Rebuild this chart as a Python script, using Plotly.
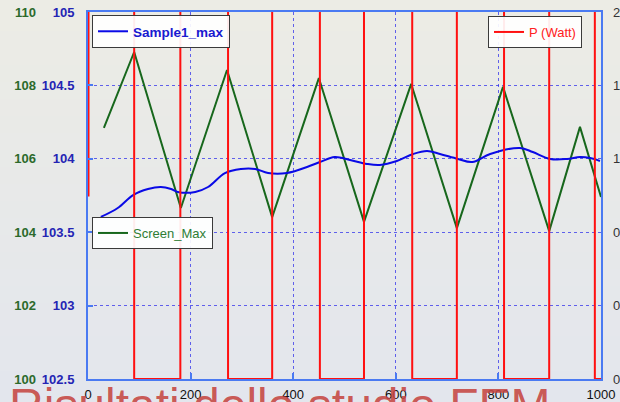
import plotly.graph_objects as go

# Time axis (s)
x_ticks = [0, 200, 400, 600, 800, 1000]

# Sample1_max (blue, middle-left axis)
sample_t = [25, 58, 88, 117, 142, 162, 175, 209, 234, 267, 298, 326, 351, 388, 427,
            452, 481, 511, 544, 569, 602, 634, 661, 686, 721, 749, 784, 842, 867,
            901, 934, 959, 979, 998]
sample_v = [103.604, 103.665, 103.753, 103.794, 103.808, 103.794, 103.774, 103.774,
            103.808, 103.903, 103.931, 103.931, 103.903, 103.903, 103.944, 103.978,
            104.012, 103.992, 103.965, 103.958, 103.985, 104.033, 104.053, 104.033,
            103.999, 103.978, 104.033, 104.074, 104.046, 103.999, 103.999, 104.012,
            104.005, 103.985]

# Screen_Max (green, outer-left axis)
screen_t = [31, 90, 181, 271, 359, 450, 538, 630, 719, 809, 899, 959, 1000]
screen_v = [106.84, 108.91, 104.66, 108.42, 104.41, 108.20, 104.28, 108.04, 104.11,
            107.96, 104.03, 106.87, 104.96]

# P (Watt) switching profile (right axis), held between switch times;
# the "on" level sits at the top of the scale
power_t = [0, 1, 90, 180, 273, 359, 452, 538, 632, 719, 811, 899, 988, 1000]
power_v = [1.0, 2.05, 0, 2.05, 0, 2.05, 0, 2.05, 0, 2.05, 0, 2.05, 0, 0]

FONT = "Arial, Liberation Sans, sans-serif"
FRAME = "#4a7af2"
GRID = "rgba(50,50,235,0.75)"

W, H = 620, 402
ML, MR, MT, MB = 5, 19, 12, 23
PLOT_L = 88
area_w = W - ML - MR
x_dom0 = (PLOT_L - ML) / area_w

fig = go.Figure()

fig.add_trace(go.Scatter(
    x=power_t, y=power_v, yaxis="y3", mode="lines", line_shape="hv",
    line=dict(color="#ff1010", width=2), name="P (Watt)", legend="legend2"))
fig.add_trace(go.Scatter(
    x=screen_t, y=screen_v, yaxis="y", mode="lines",
    line=dict(color="#17671c", width=2), name="Screen_Max", legend="legend3"))
fig.add_trace(go.Scatter(
    x=sample_t, y=sample_v, yaxis="y2", mode="lines", line_shape="spline",
    line=dict(color="#0a0ae6", width=2), name="Sample1_max", legend="legend"))

# soft vertical background gradient
shapes = []
n = 24
y_lo, y_hi = -0.07, 1.04
top_c = (236, 236, 229)
bot_c = (227, 230, 237)
for i in range(n):
    f = i / (n - 1)
    c = tuple(round(bot_c[k] + (top_c[k] - bot_c[k]) * f) for k in range(3))
    y0 = y_lo + (y_hi - y_lo) * i / n
    y1 = y_lo + (y_hi - y_lo) * (i + 1) / n + 0.002
    shapes.append(dict(type="rect", xref="paper", yref="paper", x0=-0.02, x1=1.05,
                       y0=y0, y1=y1, line=dict(width=0),
                       fillcolor="rgb(%d,%d,%d)" % c, layer="below"))

legend_common = dict(xref="container", yref="container", xanchor="left", yanchor="top",
                     bgcolor="rgba(255,255,255,0.92)", bordercolor="#3a3a3a", borderwidth=1,
                     itemclick=False, tracegroupgap=0)

fig.update_layout(
    width=W, height=H,
    margin=dict(l=ML, r=MR, t=MT, b=MB, autoexpand=False),
    paper_bgcolor="rgb(231,232,232)",
    plot_bgcolor="rgba(0,0,0,0)",
    font=dict(family=FONT, size=13, color="#111"),
    shapes=shapes,
    xaxis=dict(domain=[x_dom0, 1], range=[0, 1000], tickvals=x_ticks,
               showgrid=True, griddash="dot", gridcolor=GRID, gridwidth=1,
               zeroline=False, showline=True, mirror=True, linecolor=FRAME, linewidth=2,
               ticks="inside", ticklen=6, tickcolor=FRAME, tickwidth=2,
               tickfont=dict(size=13, color="#111"), ticklabelstandoff=2),
    yaxis=dict(range=[100, 110], dtick=2, anchor="free",
               position=(36 - ML) / area_w, side="left",
               showgrid=False, zeroline=False, showline=False, ticks="",
               tickfont=dict(size=13, color="#2c6a2c", weight="bold")),
    yaxis2=dict(range=[102.5, 105], dtick=0.5, overlaying="y",
                anchor="x", side="left",
                showgrid=True, griddash="dot", gridcolor=GRID, gridwidth=1,
                zeroline=False, showline=True, mirror=True, linecolor=FRAME, linewidth=2,
                ticks="inside", ticklen=5, tickcolor=FRAME, tickwidth=2,
                ticklabelstandoff=9,
                tickfont=dict(size=13, color="#2424b4", weight="bold")),
    yaxis3=dict(range=[0, 2], dtick=0.4, overlaying="y", anchor="x", side="right",
                showgrid=False, zeroline=False, showline=False, ticks="",
                ticklabelstandoff=11, tickfont=dict(size=13, color="#333")),
    legend=dict(legend_common, x=92 / W, y=1 - 15 / H,
                font=dict(size=13.5, color="#1a1ad0", weight="bold")),
    legend2=dict(legend_common, x=488 / W, y=1 - 16 / H,
                 font=dict(size=13, color="#ff2020")),
    legend3=dict(legend_common, x=92 / W, y=1 - 217 / H,
                 font=dict(size=13, color="#2f7d34")),
    showlegend=True,
)

# time unit next to the axis labels
fig.add_annotation(x=883, xref="x", y=-14, yref="y domain",
                   text="s", showarrow=False, font=dict(size=13, color="#111"),
                   yanchor="middle")

# slide caption running along the bottom edge
fig.add_annotation(x=2 / W, xref="paper", y=-0.01, yref="paper", yshift=6,
                   xanchor="left", yanchor="top", showarrow=False,
                   text="Risultati dello studio FEM",
                   font=dict(size=48, color="rgba(198,70,66,0.9)", family=FONT))

fig.write_html("out.html")
